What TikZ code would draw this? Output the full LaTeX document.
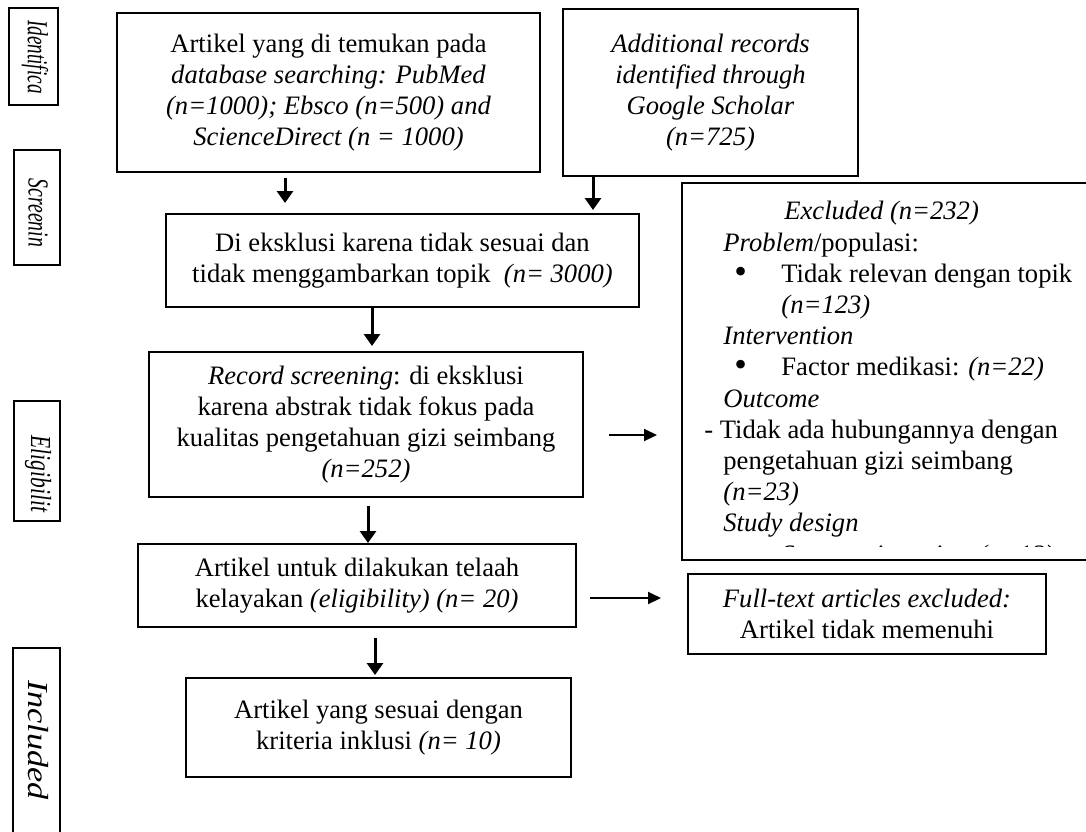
\documentclass[tikz,border=0pt]{standalone}
\usepackage{fontspec}
\setmainfont{Liberation Serif}
\usetikzlibrary{arrows.meta,calc}
\newcommand\myfs{\fontsize{13.3}{15.6}\selectfont}
\newcommand\sidefs{\fontsize{14.5}{16}\selectfont}
\newcommand\bigbul{\raisebox{-0.5pt}{\scalebox{1.35}{\textbullet}}}
\begin{document}
\begin{tikzpicture}[x=0.5pt,y=-0.5pt,
  box/.style={draw, line width=1pt, align=center, inner sep=0pt, font=\myfs},
  sidebox/.style={draw, line width=1pt, inner sep=0pt},
  sidetxt/.style={rotate=-90, inner sep=0pt, font=\sidefs\itshape},
  arr/.style={line width=1.5pt, -{Triangle[length=6pt,width=8pt]}},
  harr/.style={line width=1pt, -{Triangle[length=6.5pt,width=6pt]}},
  lines/.style={inner sep=0pt, align=left, font=\myfs, anchor=north west}
]
\useasboundingbox[fill=white] (0,0) rectangle (1086,831);

% side labels
\node[sidebox, minimum width=24.5pt, minimum height=48.5pt] (s1) at (33,56.5) {};
\node[sidetxt] (t1) at (35,57) {\scalebox{0.66}[1]{Identifica}};
\node[sidebox, minimum width=23pt, minimum height=57.5pt] (s2) at (37,207.5) {};
\node[sidetxt] (t2) at (38,213) {\scalebox{0.68}[1]{Screenin}};
\node[sidebox, minimum width=23pt, minimum height=60pt] (s3) at (37,461) {};
\node[sidetxt] (t3) at (38,474) {\scalebox{0.74}[1]{Eligibilit}};
\node[sidebox, minimum width=23.5pt, minimum height=96pt] (s4) at (36.5,744) {};
\node[sidetxt] (t4) at (38,740) {\scalebox{1.18}[1]{Included}};

% main boxes
\node[box, minimum width=211.5pt, minimum height=79.5pt] (b1) at (328.5,92.5)
  {Artikel yang di temukan pada\\ \textit{database searching: PubMed}\\ \textit{(n=1000); Ebsco (n=500) and}\\ \textit{ScienceDirect (n = 1000)}};
\node[box, minimum width=147.5pt, minimum height=83.5pt] (add) at (710.5,92.5)
  {\itshape Additional records\\ \itshape identified through\\ \itshape Google Scholar\\ \itshape (n=725)};
\node[box, minimum width=236.5pt, minimum height=46.5pt] (db) at (402.5,260.5)
  {Di eksklusi karena tidak sesuai dan\\ tidak menggambarkan topik\ \ \textit{(n= 3000)}};
\node[box, minimum width=217pt, minimum height=72.5pt] (rec) at (366,424.5)
  {\textit{Record screening}: di eksklusi\\ karena abstrak tidak fokus pada\\ kualitas pengetahuan gizi seimbang\\ \textit{(n=252)}};
\node[box, minimum width=219pt, minimum height=41.5pt] (el) at (357,585.5)
  {Artikel untuk dilakukan telaah\\ kelayakan \textit{(eligibility) (n= 20)}};
\node[box, minimum width=192.5pt, minimum height=49.5pt] (inc) at (378.5,727.5)
  {Artikel yang sesuai dengan\\ kriteria inklusi \textit{(n= 10)}};
\node[box, minimum width=179pt, minimum height=40pt] (ft) at (867,614)
  {\textit{Full-text articles excluded:}\\ Artikel tidak memenuhi};
\node[box, minimum width=209pt, minimum height=188.5pt] (exc) at (891,371.5) {};

\begin{scope}
\clip (684,185) rectangle (1086,546);
\node[lines] (exct) at (704,201) {%
\hspace*{40pt}\textit{Excluded (n=232)}\\
\hspace*{9.5pt}\textit{Problem}/populasi:\\
\makebox[38.5pt][l]{\hspace*{15pt}\bigbul}Tidak relevan dengan topik\\
\hspace*{38.5pt}\textit{(n=123)}\\
\hspace*{9.5pt}\textit{Intervention}\\
\makebox[38.5pt][l]{\hspace*{15pt}\bigbul}Factor medikasi: \textit{(n=22)}\\
\hspace*{9.5pt}\textit{Outcome}\\
- Tidak ada hubungannya dengan\\
\hspace*{9.5pt}pengetahuan gizi seimbang\\
\hspace*{9.5pt}\textit{(n=23)}\\
\hspace*{9.5pt}\textit{Study design}\\
\makebox[38.5pt][l]{\hspace*{15pt}\bigbul}\textit{Systematic review (n=12)}};
\end{scope}

% arrows
\draw[arr, shorten >=5pt] ([xshift=-21.75pt,yshift=-2.5pt]b1.south) -- ([xshift=-21.75pt]b1.south |- db.north);
\draw[arr, shorten >=1.5pt] ([xshift=-58.75pt]add.south) -- ([xshift=-58.75pt]add.south |- db.north);
\draw[arr, shorten >=2.5pt] ([xshift=-15.25pt]db.south) -- ([xshift=-15.25pt]db.south |- rec.north);
\draw[arr, shorten <=4pt] ([xshift=1pt]rec.south) -- ([xshift=1pt]rec.south |- el.north);
\draw[arr, shorten <=5pt, shorten >=1pt] ([xshift=9pt]el.south) -- ([xshift=9pt]el.south |- inc.north);
\draw[harr, shorten <=12.5pt, shorten >=12pt] ([yshift=-5.25pt]rec.east) -- ([yshift=-5.25pt]rec.east -| exc.west);
\draw[harr, shorten <=6.5pt, shorten >=13pt] ([yshift=-6.25pt]el.east) -- ([yshift=-6.25pt]el.east -| ft.west);
\end{tikzpicture}
\end{document}
